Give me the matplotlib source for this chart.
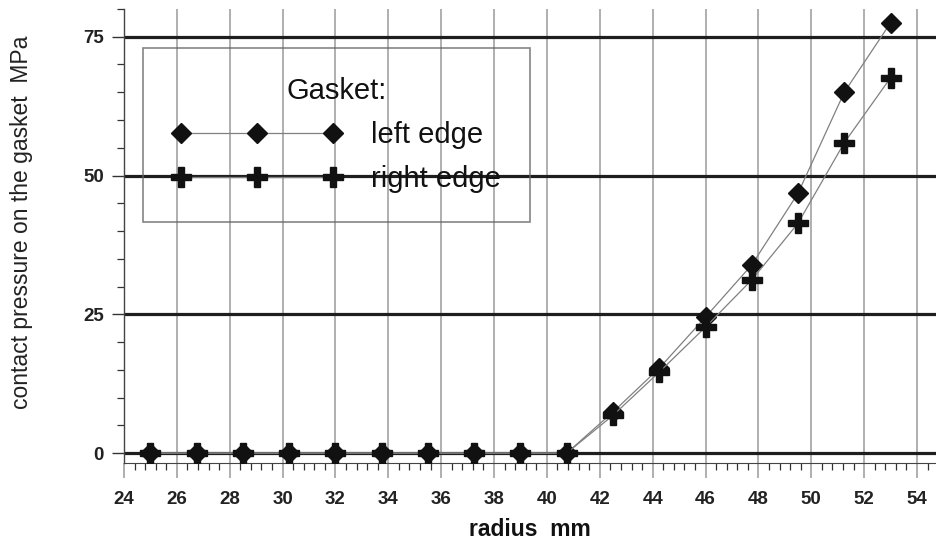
import numpy as np
import matplotlib
matplotlib.use('Agg')
import matplotlib.pyplot as plt
from matplotlib.ticker import MultipleLocator

plt.rcParams['font.family'] = ['Liberation Sans', 'DejaVu Sans']

# data
radius = [25.0, 26.75, 28.5, 30.25, 32.0, 33.75, 35.5, 37.25, 39.0,
          40.75, 42.5, 44.25, 46.0, 47.75, 49.5, 51.25, 53.0]
left_edge = [0, 0, 0, 0, 0, 0, 0, 0, 0,
             0, 7.4, 15.3, 24.5, 33.9, 46.8, 65.0, 77.5]
right_edge = [0, 0, 0, 0, 0, 0, 0, 0, 0,
              0, 6.8, 14.6, 22.7, 31.2, 41.4, 55.9, 67.6]
yticks = [0, 25, 50, 75]
xticks = list(range(24, 55, 2))

fig = plt.figure(figsize=(9.36, 5.48), dpi=100)
ax = fig.add_axes([0.1325, 0.155, 0.8675, 0.8286])

# grid lines
for yt in yticks:
    ax.axhline(yt, color='#1e1e1e', lw=2.3, zorder=1)
for xt in xticks:
    ax.axvline(xt, color='#9a9a9a', lw=1.1, zorder=0)

ax.plot(radius, left_edge, color='#808080', lw=0.9, marker='D', ms=10,
        mfc='#111111', mec='#111111', label='left edge', zorder=3)
ax.plot(radius, right_edge, color='#808080', lw=0.9, marker='P', ms=14,
        mfc='#111111', mec='#111111', label='right edge', zorder=3)

ax.set_xlim(24, 54.72)
ax.set_ylim(-1.8, 80)
ax.set_xticks(xticks)
ax.set_yticks(yticks)
ax.xaxis.set_minor_locator(MultipleLocator(0.4))
ax.yaxis.set_minor_locator(MultipleLocator(5))

for side in ['top', 'right']:
    ax.spines[side].set_visible(False)
ax.spines['left'].set_color('#444444')
ax.spines['bottom'].set_color('#444444')
ax.spines['left'].set_linewidth(1.0)
ax.spines['bottom'].set_linewidth(0.8)

ax.tick_params(axis='x', which='major', length=11, width=1.1, color='#9a9a9a',
               pad=9, labelsize=13.5)
ax.tick_params(axis='x', which='minor', length=5, width=0.9, color='#333333')
ax.tick_params(axis='y', which='major', length=8.5, width=1.0, color='#333333',
               pad=6, labelsize=13.5)
ax.tick_params(axis='y', which='minor', length=5, width=0.9, color='#333333')
for lab in ax.get_xticklabels() + ax.get_yticklabels():
    lab.set_fontweight('bold')
    lab.set_color('#222222')

ax.set_xlabel('radius  mm', fontsize=16.5, fontweight='bold', labelpad=7,
              color='#111111')
ax.set_ylabel('contact pressure on the gasket  MPa', fontsize=16.5,
              color='#222222')
ax.yaxis.set_label_coords(-0.112, 0.53)

leg = ax.legend(title='Gasket:', numpoints=3, handlelength=5.8,
                handletextpad=1.0, labelspacing=0.55, borderpad=1.0,
                fontsize=21, title_fontsize=21, frameon=True, fancybox=False,
                loc='upper left', bbox_to_anchor=(0.0234, 0.914),
                borderaxespad=0)
leg.get_frame().set_facecolor('none')
leg.get_frame().set_edgecolor('#666666')
leg.get_frame().set_linewidth(1.2)
for t in leg.get_texts():
    t.set_color('#111111')
leg.get_title().set_color('#111111')

fig.savefig('out.png', dpi=100)
